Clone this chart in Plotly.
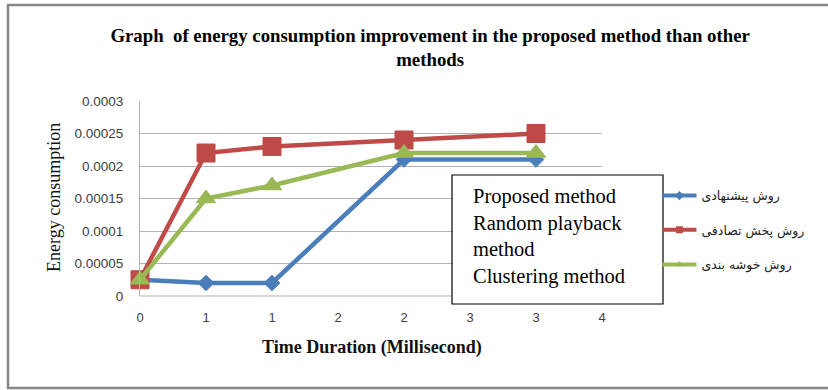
import plotly.graph_objects as go

# Time points (ms) and energy consumption for each method
time_ms = [0, 0.5, 1, 2, 3]
proposed = [0.000025, 0.00002, 0.00002, 0.00021, 0.00021]
random_playback = [0.000025, 0.00022, 0.00023, 0.00024, 0.00025]
clustering = [0.000025, 0.00015, 0.00017, 0.00022, 0.00022]

series_names = ["روش پیشنهادی", "روش پخش تصادفی", "روش خوشه بندی"]
series_colors = ["#4a7ebb", "#be4b48", "#98b954"]
series_symbols = ["diamond", "square", "triangle-up"]
series_sizes = [12, 18, 17]

x_tickvals = [0, 0.5, 1, 1.5, 2, 2.5, 3, 3.5]
x_ticktext = ["0", "1", "1", "2", "2", "3", "3", "4"]
y_tickvals = [0, 0.00005, 0.0001, 0.00015, 0.0002, 0.00025, 0.0003]
y_ticktext = ["0", "0.00005", "0.0001", "0.00015", "0.0002", "0.00025", "0.0003"]

box_lines = ["Proposed method", "Random playback", "method", "Clustering method"]

SERIF = "Liberation Serif, Times New Roman, serif"
SANS = "Liberation Sans, Arial, sans-serif"

fig = go.Figure()

for name, ys, color, sym, size in zip(series_names,
                                     [proposed, random_playback, clustering],
                                     series_colors, series_symbols, series_sizes):
    fig.add_trace(go.Scatter(
        x=time_ms, y=ys, mode="lines+markers", name=name,
        line=dict(color=color, width=4.5),
        marker=dict(symbol=sym, size=size, color=color,
                    line=dict(color=color, width=1)),
        cliponaxis=False, showlegend=False,
    ))

# legend entries with small markers, each placed in its own legend box
legend_ids = ["legend", "legend2", "legend3"]
legend_y = [0.513, 0.338, 0.16]
for name, color, sym, lid in zip(series_names, series_colors, series_symbols, legend_ids):
    fig.add_trace(go.Scatter(
        x=[None], y=[None], mode="lines+markers", name=name,
        line=dict(color=color, width=4),
        marker=dict(symbol=sym, size=7, color=color),
        legend=lid, showlegend=True,
    ))

legend_common = dict(
    x=1.12, xanchor="left", yanchor="middle",
    bgcolor="rgba(0,0,0,0)", borderwidth=0,
    font=dict(family="DejaVu Sans, sans-serif", size=12.5, color="#222222"),
    itemwidth=34,
)

layout_legends = {lid: dict(legend_common, y=ly) for lid, ly in zip(legend_ids, legend_y)}

fig.update_layout(
    width=828, height=390,
    margin=dict(l=140, r=226, t=101, b=94),
    paper_bgcolor="white", plot_bgcolor="white",
    title=dict(
        text="Graph  of energy consumption improvement in the proposed method than other<br>methods",
        x=0.628, xref="paper", xanchor="center",
        y=1 - 41.5 / 390, yref="container", yanchor="middle",
        font=dict(family=SERIF, size=18.8, color="#000000", weight="bold"),
    ),
    xaxis=dict(
        range=[0, 3.5], tickvals=x_tickvals, ticktext=x_ticktext,
        showgrid=False, zeroline=False, showline=False,
        ticks="", ticklabelstandoff=12,
        tickfont=dict(family=SANS, size=13, color="#404040"),
    ),
    yaxis=dict(
        range=[0, 0.0003], tickvals=y_tickvals, ticktext=y_ticktext,
        showgrid=True, gridcolor="#b3b3b3", gridwidth=1,
        zeroline=False, showline=True, linecolor="#b3b3b3", linewidth=1,
        ticks="", ticklabelstandoff=13,
        tickfont=dict(family=SANS, size=13.5, color="#404040"),
    ),
    showlegend=True,
    **layout_legends,
)

# bottom axis line at zero
fig.add_shape(type="line", xref="paper", yref="paper", x0=0, x1=1, y0=0, y1=0,
              line=dict(color="#b3b3b3", width=1), layer="below")

# outer chart frame
fig.add_shape(type="rect", xref="paper", yref="paper",
              x0=(8 - 140) / 462, x1=(840 - 140) / 462,
              y0=(296 - 388) / 195, y1=(296 - 5) / 195,
              line=dict(color="#878787", width=2.5), fillcolor="rgba(0,0,0,0)")

# axis titles
fig.add_annotation(text="Energy consumption", textangle=-90,
                   xref="paper", yref="paper", x=(54 - 140) / 462, y=(296 - 198) / 195,
                   xanchor="center", yanchor="middle", showarrow=False,
                   font=dict(family=SERIF, size=18, color="#111111"))
fig.add_annotation(text="<b>Time Duration (Millisecond)</b>",
                   xref="paper", yref="paper", x=(372 - 140) / 462, y=(296 - 347) / 195,
                   xanchor="center", yanchor="middle", showarrow=False,
                   font=dict(family=SERIF, size=18, color="#111111"))

# text box with English method names
fig.add_shape(type="rect", xref="paper", yref="paper",
              x0=(452 - 140) / 462, x1=(663 - 140) / 462,
              y0=(296 - 304) / 195, y1=(296 - 175) / 195,
              line=dict(color="#000000", width=1.2), fillcolor="white", layer="above")
fig.add_annotation(text="<br>".join(box_lines),
                   xref="paper", yref="paper", x=(471 - 140) / 462, y=(296 - 183) / 195,
                   xanchor="left", yanchor="top", align="left", showarrow=False,
                   font=dict(family=SERIF, size=20.5, color="#000000"))

fig.write_html("out.html")
